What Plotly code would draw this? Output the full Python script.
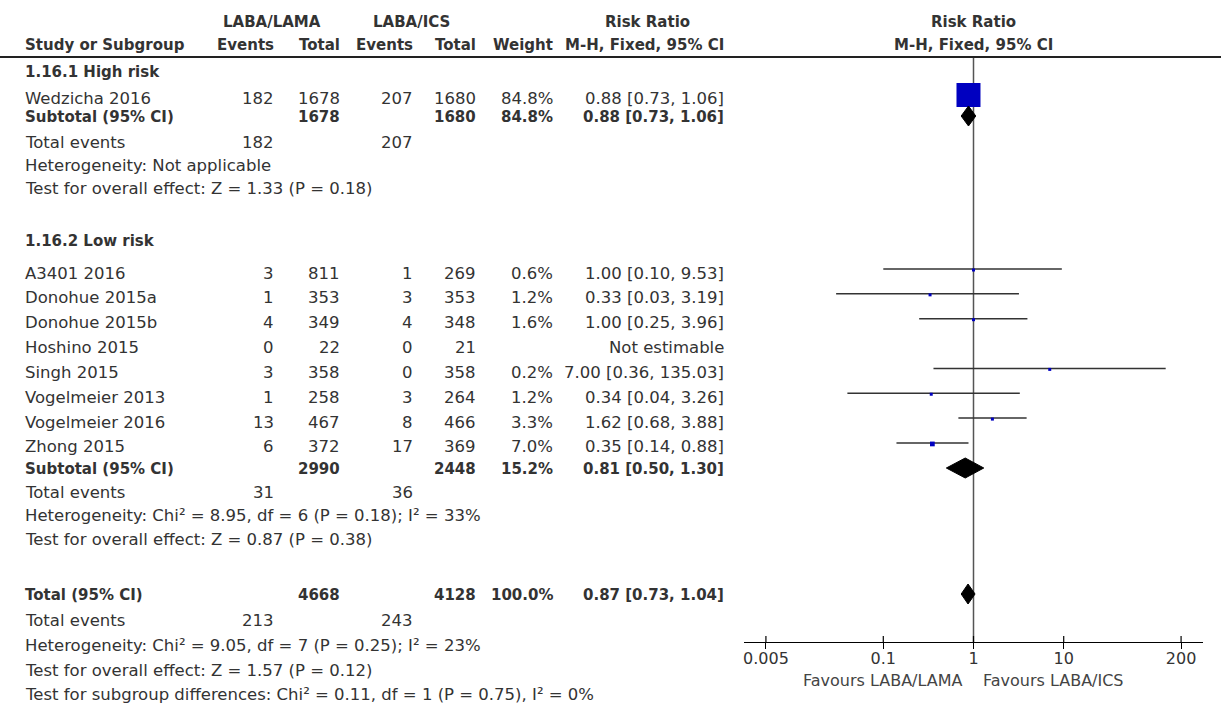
import plotly.graph_objects as go

# ---------------- data ----------------
study_names = ["Wedzicha 2016", "A3401 2016", "Donohue 2015a", "Donohue 2015b", "Hoshino 2015",
               "Singh 2015", "Vogelmeier 2013", "Vogelmeier 2016", "Zhong 2015"]
events_lama = [182, 3, 1, 4, 0, 3, 1, 13, 6]
total_lama = [1678, 811, 353, 349, 22, 358, 258, 467, 372]
events_ics = [207, 1, 3, 4, 0, 0, 3, 8, 17]
total_ics = [1680, 269, 353, 348, 21, 358, 264, 466, 369]
weights = [84.8, 0.6, 1.2, 1.6, None, 0.2, 1.2, 3.3, 7.0]
rr = [0.88, 1.00, 0.33, 1.00, None, 7.00, 0.34, 1.62, 0.35]
rr_lo = [0.73, 0.10, 0.03, 0.25, None, 0.36, 0.04, 0.68, 0.14]
rr_hi = [1.06, 9.53, 3.19, 3.96, None, 135.03, 3.26, 3.88, 0.88]

group_titles = ["1.16.1 High risk", "1.16.2 Low risk"]
sum_labels = ["Subtotal (95% CI)", "Subtotal (95% CI)", "Total (95% CI)"]
sum_total_lama = [1678, 2990, 4668]
sum_total_ics = [1680, 2448, 4128]
sum_weight = [84.8, 15.2, 100.0]
sum_rr = [0.88, 0.81, 0.87]
sum_lo = [0.73, 0.50, 0.73]
sum_hi = [1.06, 1.30, 1.04]
sum_events_lama = [182, 31, 213]
sum_events_ics = [207, 36, 243]
heterogeneity = ["Heterogeneity: Not applicable",
                 "Heterogeneity: Chi\u00b2 = 8.95, df = 6 (P = 0.18); I\u00b2 = 33%",
                 "Heterogeneity: Chi\u00b2 = 9.05, df = 7 (P = 0.25); I\u00b2 = 23%"]
overall_effect = ["Test for overall effect: Z = 1.33 (P = 0.18)",
                  "Test for overall effect: Z = 0.87 (P = 0.38)",
                  "Test for overall effect: Z = 1.57 (P = 0.12)"]
subgroup_test = "Test for subgroup differences: Chi\u00b2 = 0.11, df = 1 (P = 0.75), I\u00b2 = 0%"

tick_vals = [0.005, 0.1, 1, 10, 200]
tick_text = ["0.005", "0.1", "1", "10", "200"]
favours_left = "Favours LABA/LAMA"
favours_right = "Favours LABA/ICS"

# ---------------- layout (pixel positions) ----------------
W, H = 1221, 706
FONT = "DejaVu Sans"
TXT = "#333333"
REG = 16.5
BOLD = 15

# row y (text centres)
y_hdr1, y_hdr2, y_rule = 22, 45, 57
study_y = [98] + [273 + 24.85 * i for i in range(8)]
group_y = [72, 241]
sum_y = [117, 469, 595]
te_y = [142, 492, 620]
het_y = [165, 515, 645]
ov_y = [188, 539, 670]
subdiff_y = 694
axis_y = 642

# columns (right edges unless noted)
x_name = 23
x_ev1, x_tot1, x_ev2, x_tot2, x_w, x_rr = 276, 342, 415, 478, 555, 726

fig = go.Figure()
ann = []


def txt(x, y, s, anchor="left", bold=False, size=None, color=TXT):
    ann.append(dict(x=x / W, y=y, xref="paper", yref="y", text=s, showarrow=False,
                    xanchor=anchor, yanchor="middle",
                    font=dict(family=FONT, size=size or (BOLD if bold else REG), color=color,
                              weight="bold" if bold else "normal")))


# headers
txt(272, y_hdr1, "LABA/LAMA", "center", True)
txt(411, y_hdr1, "LABA/ICS", "center", True)
txt(648, y_hdr1, "Risk Ratio", "center", True)
txt(973, y_hdr1, "Risk Ratio", "center", True)
txt(x_name, y_hdr2, "Study or Subgroup", "left", True)
txt(x_ev1, y_hdr2, "Events", "right", True)
txt(x_tot1, y_hdr2, "Total", "right", True)
txt(x_ev2, y_hdr2, "Events", "right", True)
txt(x_tot2, y_hdr2, "Total", "right", True)
txt(x_w, y_hdr2, "Weight", "right", True)
txt(x_rr, y_hdr2, "M-H, Fixed, 95% CI", "right", True)
txt(973, y_hdr2, "M-H, Fixed, 95% CI", "center", True)

for g, t in enumerate(group_titles):
    txt(x_name, group_y[g], t, "left", True)

for i, name in enumerate(study_names):
    y = study_y[i]
    txt(x_name, y, name)
    txt(x_ev1, y, str(events_lama[i]), "right")
    txt(x_tot1, y, str(total_lama[i]), "right")
    txt(x_ev2, y, str(events_ics[i]), "right")
    txt(x_tot2, y, str(total_ics[i]), "right")
    if rr[i] is None:
        txt(x_rr, y, "Not estimable", "right")
    else:
        txt(x_w, y, f"{weights[i]:.1f}%", "right")
        txt(x_rr, y, f"{rr[i]:.2f} [{rr_lo[i]:.2f}, {rr_hi[i]:.2f}]", "right")

for k in range(3):
    txt(x_name, sum_y[k], sum_labels[k], "left", True)
    txt(x_tot1, sum_y[k], str(sum_total_lama[k]), "right", True)
    txt(x_tot2, sum_y[k], str(sum_total_ics[k]), "right", True)
    txt(x_w, sum_y[k], f"{sum_weight[k]:.1f}%", "right", True)
    txt(x_rr, sum_y[k], f"{sum_rr[k]:.2f} [{sum_lo[k]:.2f}, {sum_hi[k]:.2f}]", "right", True)
    txt(x_name, te_y[k], "Total events")
    txt(x_ev1, te_y[k], str(sum_events_lama[k]), "right")
    txt(x_ev2, te_y[k], str(sum_events_ics[k]), "right")
    txt(x_name, het_y[k], heterogeneity[k])
    txt(x_name, ov_y[k], overall_effect[k])
txt(x_name, subdiff_y, subgroup_test)

txt(965, 680, favours_left, "right", size=16, color="#444444")
txt(981, 680, favours_right, "left", size=16, color="#444444")

# ---------------- plot marks ----------------
# line of no effect
fig.add_trace(go.Scatter(x=[1, 1], y=[y_rule, axis_y], mode="lines",
                         line=dict(color="#555555", width=1.5), hoverinfo="skip"))

# confidence intervals
cx, cy = [], []
for i in range(len(study_names)):
    if rr[i] is None:
        continue
    yy = study_y[i] - 4
    cx += [rr_lo[i], rr_hi[i], None]
    cy += [yy, yy, None]
fig.add_trace(go.Scatter(x=cx, y=cy, mode="lines", line=dict(color="#333333", width=1.5),
                         hoverinfo="skip"))

# squares (size grows with weight)
wmax = max(w for w in weights if w)
sq_x, sq_y, sq_s = [], [], []
for i in range(len(study_names)):
    if rr[i] is None:
        continue
    sq_x.append(rr[i])
    sq_y.append(study_y[i] - 3)
    sq_s.append(max(3.0, 24 * (weights[i] / wmax) ** 0.65))
fig.add_trace(go.Scatter(x=sq_x, y=sq_y, mode="markers",
                         marker=dict(symbol="square", size=sq_s, color="#0000c0", opacity=1,
                                     line=dict(width=0)), hoverinfo="skip"))

# diamonds
for k in range(3):
    c = sum_y[k] - 1
    fig.add_trace(go.Scatter(x=[sum_lo[k], sum_rr[k], sum_hi[k], sum_rr[k], sum_lo[k]],
                             y=[c, c - 10, c, c + 10, c], mode="lines", fill="toself",
                             fillcolor="#000000", line=dict(color="#000000", width=1),
                             hoverinfo="skip"))

# tick marks crossing the axis (upper halves)
tx, ty = [], []
for t in tick_vals:
    tx += [t, t, None]
    ty += [axis_y - 6, axis_y, None]
fig.add_trace(go.Scatter(x=tx, y=ty, mode="lines", line=dict(color="#000000", width=1.2),
                         hoverinfo="skip"))

# header rule
shapes = [dict(type="line", xref="paper", yref="y", x0=0, x1=1, y0=y_rule, y1=y_rule,
               line=dict(color="#222222", width=2))]

fig.update_layout(
    width=W, height=H, margin=dict(l=0, r=0, t=0, b=0),
    paper_bgcolor="white", plot_bgcolor="white", showlegend=False,
    annotations=ann, shapes=shapes,
    xaxis=dict(type="log", range=[-2.544, 2.544], domain=[744 / W, 1203 / W],
               anchor="free", position=(H - axis_y) / H,
               showline=True, linecolor="#000000", linewidth=1.2,
               tickvals=tick_vals, ticktext=tick_text, ticks="outside", ticklen=6,
               tickcolor="#000000", tickwidth=1.2, ticklabelstandoff=-4,
               tickfont=dict(family=FONT, size=16, color="#333333"),
               showgrid=False, zeroline=False, fixedrange=True),
    yaxis=dict(range=[H, 0], domain=[0, 1], visible=False, showgrid=False,
               zeroline=False, fixedrange=True),
)

fig.write_html("out.html", config={"displayModeBar": False},
               post_script="document.body.style.margin='0px';")
